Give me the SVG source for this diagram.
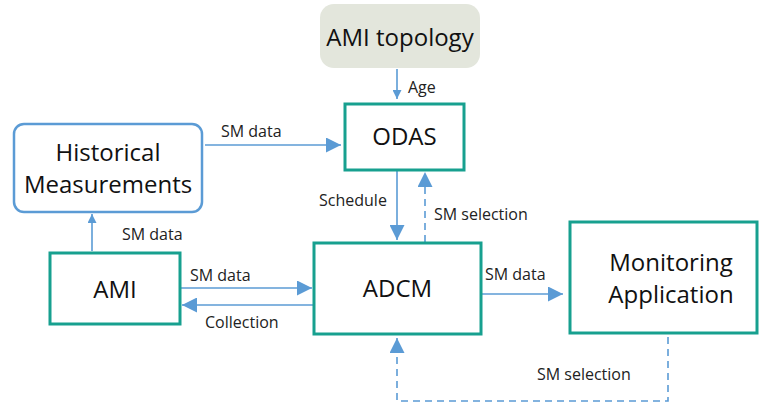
<svg xmlns="http://www.w3.org/2000/svg" width="761" height="408" viewBox="0 0 761 408">
<style>
.box{fill:#fff;stroke:#17a08f;stroke-width:3}
.hm{fill:#fff;stroke:#5b9bd5;stroke-width:2.5}
.topo{fill:#e3e6dc;stroke:none}
.big{font-family:"Open Sans","Noto Sans",sans-serif;font-size:24px;fill:#111;text-anchor:middle}
.lbl{font-family:"Open Sans","Noto Sans",sans-serif;font-size:16px;fill:#222}
.ln{stroke:#5b9bd5;stroke-width:1.6;fill:none}
.dash{stroke-dasharray:7 5}
</style>
<defs>
<marker id="ah" viewBox="0 0 10 10" refX="10" refY="5" markerWidth="22" markerHeight="15" markerUnits="userSpaceOnUse" orient="auto"><path d="M0,0 L10,5 L0,10 z" fill="#5b9bd5"/></marker>
<marker id="as" viewBox="0 0 10 10" refX="10" refY="5" markerWidth="10" markerHeight="9" markerUnits="userSpaceOnUse" orient="auto"><path d="M0,0 L10,5 L0,10 z" fill="#5b9bd5"/></marker>
</defs>
<g id="connectors">
<line class="ln" x1="397" y1="69" x2="397" y2="99" marker-end="url(#as)"/>
<line class="ln" x1="205" y1="145" x2="341" y2="145" marker-end="url(#ah)"/>
<line class="ln" x1="397" y1="171" x2="397" y2="240" marker-end="url(#ah)"/>
<line class="ln dash" x1="425" y1="242" x2="425" y2="172" marker-end="url(#ah)"/>
<line class="ln" x1="92" y1="251" x2="92" y2="214" marker-end="url(#as)"/>
<line class="ln" x1="181" y1="288" x2="312" y2="288" marker-end="url(#ah)"/>
<line class="ln" x1="313" y1="305" x2="182" y2="305" marker-end="url(#ah)"/>
<line class="ln" x1="482" y1="294" x2="563" y2="294" marker-end="url(#ah)"/>
<polyline class="ln dash" points="668,337 668,401 397,401 397,338" marker-end="url(#ah)"/>
<text class="lbl" x="408" y="93">Age</text>
<text class="lbl" x="221" y="137">SM data</text>
<text class="lbl" x="319" y="206">Schedule</text>
<text class="lbl" x="434" y="220">SM selection</text>
<text class="lbl" x="122" y="240">SM data</text>
<text class="lbl" x="190" y="281">SM data</text>
<text class="lbl" x="205" y="328">Collection</text>
<text class="lbl" x="485" y="280">SM data</text>
<text class="lbl" x="537" y="380">SM selection</text>
</g>
<g id="topology">
<rect class="topo" x="320" y="4" width="160" height="64" rx="14"/>
<text class="big" x="400" y="46">AMI topology</text>
</g>
<g id="odas">
<rect class="box" x="345" y="104" width="119" height="66"/>
<text class="big" x="404.5" y="145">ODAS</text>
</g>
<g id="historical">
<rect class="hm" x="14" y="124" width="188" height="88" rx="10"/>
<text class="big" x="108" y="161">Historical</text>
<text class="big" x="108" y="193">Measurements</text>
</g>
<g id="ami">
<rect class="box" x="50" y="253" width="130" height="71"/>
<text class="big" x="115" y="298">AMI</text>
</g>
<g id="adcm">
<rect class="box" x="314" y="243" width="167" height="91"/>
<text class="big" x="397.5" y="297">ADCM</text>
</g>
<g id="monitoring">
<rect class="box" x="570" y="222" width="187" height="111"/>
<text class="big" x="671" y="271">Monitoring</text>
<text class="big" x="671" y="303">Application</text>
</g>
</svg>
